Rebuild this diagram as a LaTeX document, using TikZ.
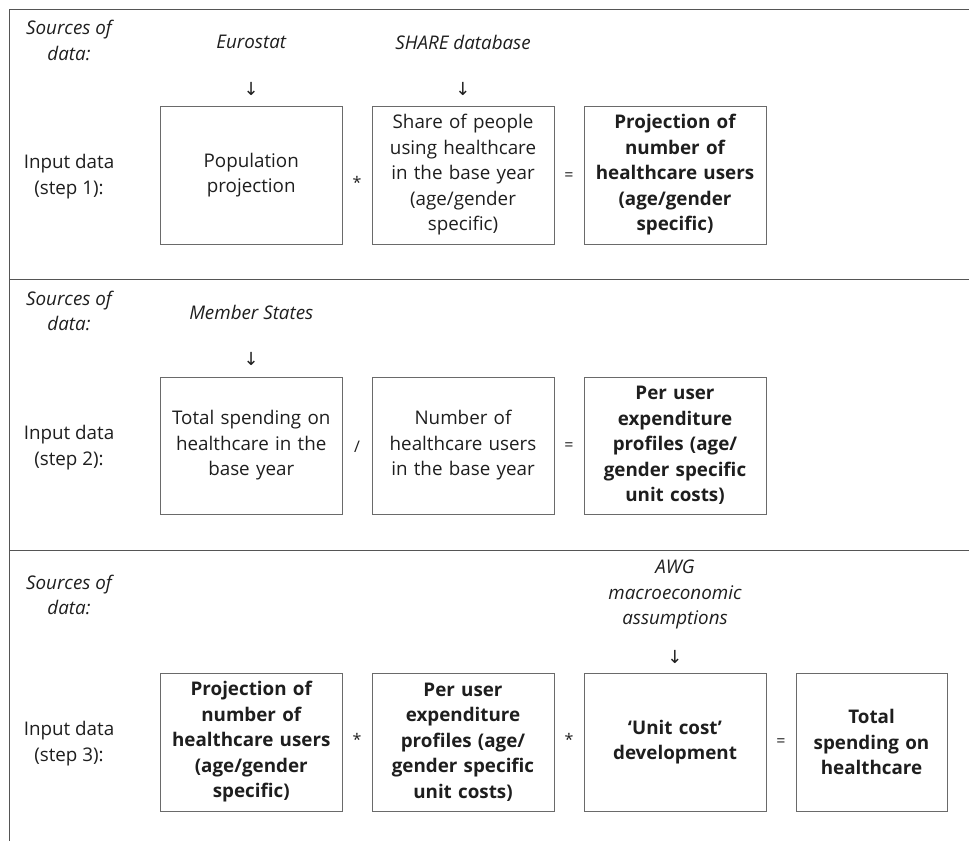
\documentclass[tikz,border=0pt]{standalone}
\usepackage{fontspec}
\setmainfont{Open Sans}
\newfontfamily\arrowfont{DejaVu Sans}
\definecolor{txt}{HTML}{1E1E1E}
\definecolor{boxline}{HTML}{6A6A6A}
\definecolor{rule}{HTML}{555555}
\begin{document}
\begin{tikzpicture}[x=1pt,y=-1pt,
  every node/.style={text=txt,font=\fontsize{18.8}{25.5}\selectfont},
  box/.style={draw=boxline,line width=1pt,align=center,inner sep=0pt,
    minimum height=138pt,text width=#1},
  box/.default=182pt,
  lab/.style={align=center,inner sep=0pt},
  src/.style={align=center,inner sep=0pt,font=\fontsize{18.8}{25.8}\selectfont\itshape},
  arr/.style={inner sep=0pt,font=\fontsize{18}{20}\selectfont\arrowfont},
  op/.style={inner sep=0pt,font=\fontsize{16}{20}\selectfont},
  sep/.style={draw=rule,line width=1pt}]
\useasboundingbox (0,0) rectangle (969,841);
% frame lines
\coordinate (tl) at (9,9);
\coordinate (tr) at (969,9);
\coordinate (bl) at (9,841);
\coordinate (s1l) at (9,279.5);
\coordinate (s1r) at (969,279.5);
\coordinate (s2l) at (9,550);
\coordinate (s2r) at (969,550);
\draw[sep] (tl) -- (tr);
\draw[sep] (tl) -- (bl);
\draw[sep] (s1l) -- (s1r);
\draw[sep] (s2l) -- (s2r);

% ---------- step 1
\node[src] (src1) at (69,40.5) {Sources of\\data:};
\node[lab] (in1) at (69,176.5) {Input data\\(step 1):};
\node[src] (euro) at (251.25,42) {Eurostat};
\node[src] (share) at (463,42) {SHARE database};
\node[arr] (a1) at (251.25,89) {↓};
\node[arr] (a2) at (463,89) {↓};
\node[box=172pt,minimum width=181.5pt] (pop) at (251.25,175) {Population\\projection};
\node[box=172pt,minimum width=182pt] (sharebox) at (463,175) {Share of people\\using healthcare\\in the base year\\(age/gender\\specific)};
\node[box=172pt,minimum width=182pt] (proj1) at (675,175) {\bfseries Projection of\\\bfseries number of\\\bfseries healthcare users\\\bfseries (age/gender\\\bfseries specific)};
\node[op] (m1) at (357,182) {*};
\node[op] (e1) at (569,177) {=};

% ---------- step 2
\node[src] (src2) at (69,311) {Sources of\\data:};
\node[lab] (in2) at (69,447.5) {Input data\\(step 2):};
\node[src] (ms) at (251.25,312) {Member States};
\node[arr] (a3) at (251.25,359) {↓};
\node[box=172pt,minimum width=181.5pt,minimum height=137pt] (tot) at (251.25,445.5) {Total spending on\\healthcare in the\\base year};
\node[box=172pt,minimum width=182pt,minimum height=137pt] (num) at (463,445.5) {Number of\\healthcare users\\in the base year};
\node[box=172pt,minimum width=182pt,minimum height=137pt] (per1) at (675,445.5) {\bfseries Per user\\\bfseries expenditure\\\bfseries profiles (age/\\\bfseries gender specific\\\bfseries unit costs)};
\node[op] (d2) at (357,447) {/};
\node[op] (e2) at (569,447) {=};

% ---------- step 3
\node[src] (src3) at (69,595) {Sources of\\data:};
\node[lab] (in3) at (69,743.5) {Input data\\(step 3):};
\node[src] (awg) at (675,594.5) {AWG\\macroeconomic\\assumptions};
\node[arr] (a4) at (675,657) {↓};
\node[box=172pt,minimum width=181.5pt] (proj3) at (251.25,742) {\bfseries Projection of\\\bfseries number of\\\bfseries healthcare users\\\bfseries (age/gender\\\bfseries specific)};
\node[box=172pt,minimum width=182pt] (per3) at (463,742) {\bfseries Per user\\\bfseries expenditure\\\bfseries profiles (age/\\\bfseries gender specific\\\bfseries unit costs)};
\node[box=172pt,minimum width=182pt] (unit) at (675,742) {\bfseries ‘Unit cost’\\\bfseries development};
\node[box=145pt,minimum width=151pt] (total) at (871.5,742) {\bfseries Total\\\bfseries spending on\\\bfseries healthcare};
\node[op] (m3) at (357,739) {*};
\node[op] (m4) at (569,739) {*};
\node[op] (e3) at (781,743) {=};
\end{tikzpicture}
\end{document}
